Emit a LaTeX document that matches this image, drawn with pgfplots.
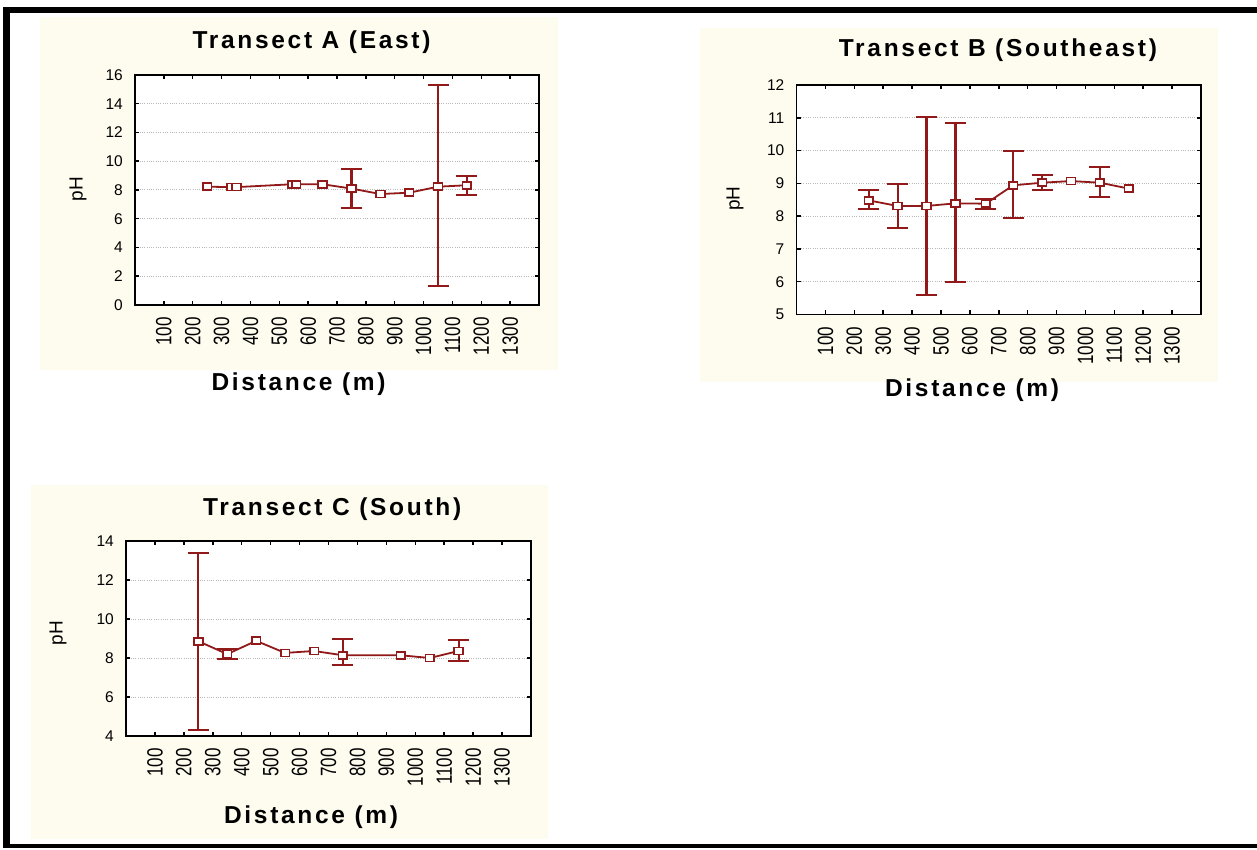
\documentclass[border=0pt]{standalone}
\usepackage{graphicx}
\usepackage{pgfplots}
\pgfplotsset{compat=1.18}
\usepackage{pgfplotstable}
\usepackage{fontspec}
\setmainfont{Liberation Sans}
\newfontfamily\spaced[LetterSpace=11]{Liberation Sans}
\definecolor{cream}{RGB}{254,251,239}
\definecolor{dred}{RGB}{145,25,25}
\definecolor{gridgray}{RGB}{185,185,185}

% Transect A: means
\pgfplotstableread{
x y
250 8.23
335 8.2
352 8.2
545 8.4
558 8.4
650 8.4
750 8.1
850 7.72
950 7.81
1050 8.23
1150 8.33
}\tA
% Transect A: error-bar ends (low, high; nan separates bars)
\pgfplotstableread{
x y
750 6.77
750 9.44
750 nan
1050 1.32
1050 15.3
1050 nan
1150 7.65
1150 8.97
}\tAe

% Transect B
\pgfplotstableread{
x y
250 8.48
350 8.31
450 8.31
550 8.39
655 8.38
750 8.94
850 9.02
950 9.07
1050 9.02
1150 8.84
}\tB
\pgfplotstableread{
x y
250 8.21
250 8.79
250 nan
350 7.63
350 8.99
350 nan
450 5.58
450 11.02
450 nan
550 5.98
550 10.84
550 nan
655 8.23
655 8.53
655 nan
750 7.95
750 10.0
750 nan
850 8.79
850 9.24
850 nan
1050 8.59
1050 9.49
}\tBe

% Transect C
\pgfplotstableread{
x y
250 8.86
350 8.2
450 8.88
550 8.26
650 8.36
750 8.14
950 8.14
1050 8.0
1150 8.36
}\tC
\pgfplotstableread{
x y
250 4.33
250 13.36
250 nan
350 7.97
350 8.45
350 nan
750 7.62
750 8.95
750 nan
1150 7.83
1150 8.91
}\tCe

\pgfplotsset{
  panel/.style={
    scale only axis, anchor=south west,
    xmin=0, xmax=1400, xtick={100,200,...,1300},
    axis background/.style={fill=white},
    axis line style={line width=1.8pt, black},
    tick style={black, line width=1.5pt},
    major tick length=4pt, tick align=inside,
    ymajorgrids,
    major grid style={gridgray, line width=1pt, dash pattern=on 1pt off 1.3pt},
    /pgf/number format/assume math mode=true,
    /pgf/number format/1000 sep={},
    yticklabel style={font=\fontsize{15.5}{16}\selectfont, inner sep=0pt},
    yticklabel shift=12pt,
    xticklabel style={rotate=90, anchor=east, inner sep=0pt, font=\fontsize{17}{17}\selectfont},
    xticklabel shift=12pt,
    xticklabel={\scalebox{1}[1.3]{\pgfmathprintnumber{\tick}}},
    title style={font=\spaced\bfseries\fontsize{24.5}{26}\selectfont, anchor=base},
    every axis x label/.style={font=\spaced\bfseries\fontsize{24.5}{26}\selectfont, anchor=base},
    every axis y label/.style={font=\fontsize{19}{20}\selectfont, rotate=90, anchor=center},
    xlabel={Distance (m)}, ylabel={pH},
    clip=false, unbounded coords=jump,
  },
  serie/.style={dred, line width=1.8pt, mark=square*,
    mark size=3.5pt, mark options={fill=white, draw=dred, line width=1.7pt, xscale=1.25}},
  errs/.style={dred, line width=2.2pt, mark=-, mark size=10.5pt,
    mark options={solid, line width=2pt}},
}

\begin{document}
\begin{tikzpicture}[x=1pt,y=1pt]
\useasboundingbox (0,0) rectangle (1257,849);
\fill[white] (0,0) rectangle (1257,849);
% frame
\fill[black] (3.3,1) rectangle (10,842.3);
\fill[black] (3.3,836.3) rectangle (1257,842.3);
\fill[black] (3.3,1) rectangle (1257,5.5);
% panel backgrounds
\fill[cream] (40,479) rectangle (558,832);
\fill[cream] (700,467) rectangle (1218,821);
\fill[cream] (31,10) rectangle (548,364);

% Transect A
\begin{axis}[panel, at={(135pt,544pt)}, width=404pt, height=230pt,
  ymin=0, ymax=16, ytick={0,2,...,16},
  title={Transect A (East)},
  title style={at={(axis description cs:0.437,1.087)}},
  xlabel style={at={(axis description cs:0.405,-0.370)}},
  ylabel style={at={(axis description cs:-0.141,0.504)}}]
\addplot[errs] table[x=x, y=y]{\tAe};
\addplot[serie] table[x=x, y=y]{\tA};
\end{axis}

% Transect B
\begin{axis}[panel, at={(796.5pt,534.5pt)}, width=404.5pt, height=229.5pt,
  ymin=5, ymax=12, ytick={5,6,...,12},
  title={Transect B (Southeast)},
  title style={at={(axis description cs:0.498,1.100)}},
  xlabel style={at={(axis description cs:0.434,-0.357)}},
  ylabel style={at={(axis description cs:-0.152,0.504)}}]
\addplot[errs] table[x=x, y=y]{\tBe};
\addplot[serie] table[x=x, y=y]{\tB};
\end{axis}

% Transect C
\begin{axis}[panel, at={(126pt,113pt)}, width=405pt, height=195pt,
  ymin=4, ymax=14, ytick={4,6,...,14},
  title={Transect C (South)},
  title style={at={(axis description cs:0.509,1.102)}},
  xlabel style={at={(axis description cs:0.457,-0.451)}},
  ylabel style={at={(axis description cs:-0.168,0.528)}}]
\addplot[errs] table[x=x, y=y]{\tCe};
\addplot[serie] table[x=x, y=y]{\tC};
\end{axis}
\end{tikzpicture}
\end{document}
